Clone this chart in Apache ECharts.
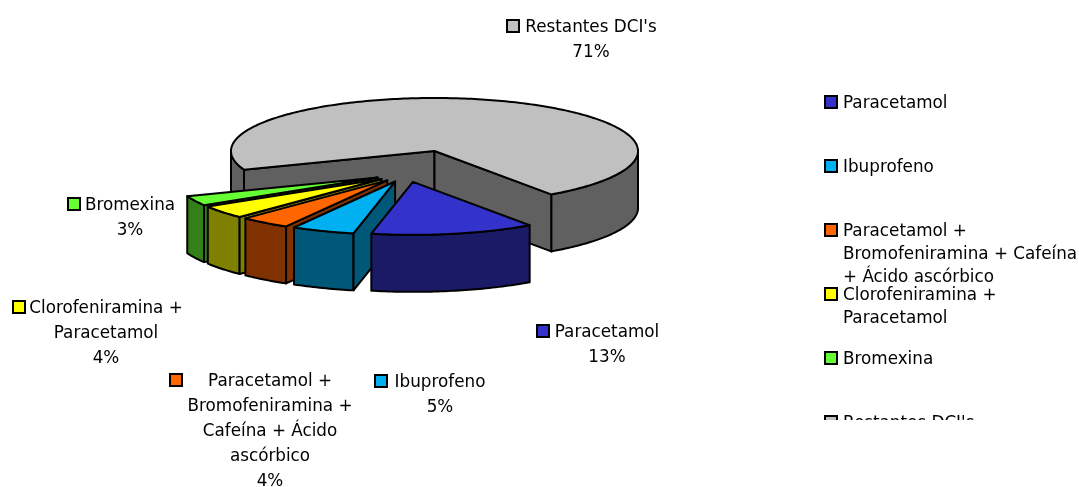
<!DOCTYPE html>
<html>
<head>
<meta charset="utf-8">
<title>DCI</title>
<style>
  html, body { margin: 0; padding: 0; background: #fff; }
  #chart { width: 1079px; height: 487px; }
</style>
<script src="https://cdn.jsdelivr.net/npm/echarts@6/dist/echarts.min.js"></script>
</head>
<body>
<div id="chart"></div>
<script>
// dados
const categories = ["Paracetamol", "Ibuprofeno", "Paracetamol + Bromofeniramina + Cafeína + Ácido ascórbico", "Clorofeniramina + Paracetamol", "Bromexina", "Restantes DCI's"];
const sliceValues = [13, 5, 4, 4, 3, 71];
const labelNames = ["Paracetamol", "Ibuprofeno", "Paracetamol +\nBromofeniramina +\nCafeína + Ácido\nascórbico", "Clorofeniramina +\nParacetamol", "Bromexina", "Restantes DCI's"];
const legendNames = ["Paracetamol", "Ibuprofeno", "Paracetamol +\nBromofeniramina + Cafeína\n+ Ácido ascórbico", "Clorofeniramina +\nParacetamol", "Bromexina", "Restantes DCI's"];

// cores
const topColors = ["#3333CC", "#00B0F0", "#FF6600", "#FFFF00", "#66FF33", "#C0C0C0"];
const sideColors = ["#1A1A66", "#005878", "#803300", "#808000", "#338019", "#606060"];

// layout
const FONT = "DejaVu Sans";
const FONT_SIZE = 16.8;
const CX = 434.5, CY = 151, RX = 203.5, RY = 53, DEPTH = 57;
const START_ANGLE = 55;
const SHIFT_X = -28, SHIFT_Y = 23, PULL_X = 32, PULL_Y = 8;
// centro do bloco de texto, y da 1a linha, x do quadrado
const labelAnchors = [[607, 331, 536], [440, 381, 374], [270, 380, 169], [106, 307, 12], [130, 204, 67], [591, 26, 506]];
const legendX = 824, legendTop = 102, legendStep = 64, legendClipY = 420;

const total = sliceValues.reduce((a, b) => a + b, 0);
const rad = (d) => (d * Math.PI) / 180;

function ellipsePoint(c, t, drop) {
  return [c[0] + RX * Math.cos(rad(t)), c[1] + RY * Math.sin(rad(t)) + (drop || 0)];
}

function arcPoints(c, t1, t2, drop) {
  const pts = [];
  for (let t = t1; t < t2; t += 1) pts.push(ellipsePoint(c, t, drop));
  pts.push(ellipsePoint(c, t2, drop));
  return pts;
}

function poly(points, fill, z2) {
  return {
    type: "polygon",
    z2: z2,
    shape: { points: points },
    style: { fill: fill, stroke: "#000", lineWidth: 2, lineJoin: "round" },
  };
}

function outerWall(c, t1, t2, fill, z2) {
  const top = arcPoints(c, t1, t2, 0);
  const bottom = arcPoints(c, t1, t2, DEPTH).reverse();
  return poly(top.concat(bottom), fill, z2);
}

function radialWall(c, t, fill, z2) {
  const e = ellipsePoint(c, t, 0);
  return poly([c, e, [e[0], e[1] + DEPTH], [c[0], c[1] + DEPTH]], fill, z2);
}

function swatch(x, y, fill, z2) {
  return {
    type: "rect",
    z2: z2,
    shape: { x: x + 1, y: y - 6, width: 12, height: 12 },
    style: { fill: fill, stroke: "#000", lineWidth: 2 },
  };
}

function textEl(x, y, str, align, lh, z2) {
  return {
    type: "text",
    z2: z2,
    x: x,
    y: y - lh / 2 + 2,
    style: { text: str, fill: "#000", font: FONT_SIZE + "px '" + FONT + "'", align: align, verticalAlign: "top", lineHeight: lh },
  };
}

function renderSlice(params, api) {
  const i = params.dataIndex;
  const before = sliceValues.slice(0, i).reduce((a, b) => a + b, 0);
  const t1 = START_ANGLE + (before / total) * 360;
  const t2 = t1 + (api.value(0) / total) * 360;
  const mid = rad((t1 + t2) / 2);
  const isRest = i === sliceValues.length - 1;
  const c = isRest
    ? [CX, CY]
    : [CX + SHIFT_X + PULL_X * Math.cos(mid), CY + SHIFT_Y + PULL_Y * Math.sin(mid)];
  const z = (sliceValues.length - i) * 10;
  const children = [];

  // parede exterior: so a parte virada para a frente
  [[0, 180], [360, 540]].forEach(([a, b]) => {
    const s = Math.max(t1, a), e = Math.min(t2, b);
    if (e > s) children.push(outerWall(c, s, e, sideColors[i], z));
  });
  if (Math.cos(rad(t1)) < 0) children.push(radialWall(c, t1, sideColors[i], z + 1));
  if (Math.cos(rad(t2)) > 0) children.push(radialWall(c, t2, sideColors[i], z + 1));
  children.push(poly([c].concat(arcPoints(c, t1, t2, 0)), topColors[i], z + 2));

  // rotulo
  const a = labelAnchors[i];
  const pct = Math.round((api.value(0) / total) * 100) + "%";
  children.push(swatch(a[2], a[1], topColors[i], 200));
  children.push(textEl(a[0], a[1], labelNames[i] + "\n" + pct, "center", 25, 200));

  return { type: "group", children: children };
}

function renderLegend(params, api) {
  const i = params.dataIndex;
  const y = legendTop + i * legendStep;
  return {
    type: "group",
    clipPath: { type: "rect", shape: { x: 0, y: 0, width: 1079, height: legendClipY } },
    children: [
      swatch(legendX, y, topColors[i], 200),
      textEl(legendX + 19, y, legendNames[i], "left", 23, 200),
    ],
  };
}

const chart = echarts.init(document.getElementById("chart"), null, { renderer: "canvas" });
chart.setOption({
  backgroundColor: "#fff",
  animation: false,
  series: [
    {
      type: "custom",
      name: "Fatias",
      coordinateSystem: "none",
      silent: true,
      renderItem: renderSlice,
      data: sliceValues.map((v, i) => ({ name: categories[i], value: [v] })),
    },
    {
      type: "custom",
      name: "Legenda",
      coordinateSystem: "none",
      silent: true,
      renderItem: renderLegend,
      data: categories.map((c, i) => ({ name: c, value: [i] })),
    },
  ],
});
</script>
</body>
</html>
